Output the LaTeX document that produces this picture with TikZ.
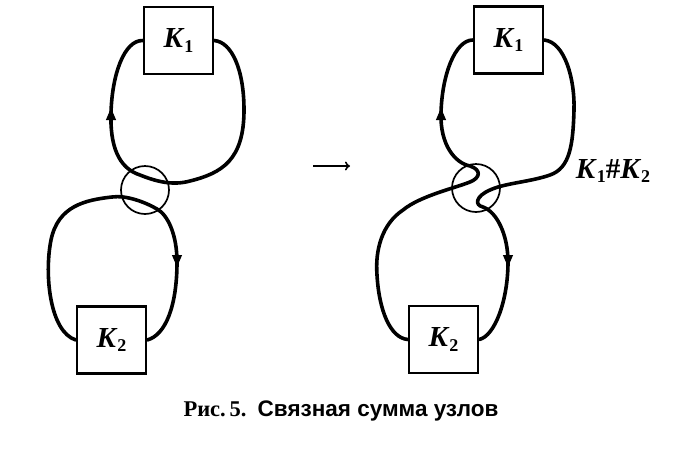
\documentclass[tikz,border=0pt]{standalone}
\usepackage{fontspec}
\setmainfont{Liberation Serif}
\setsansfont{Liberation Sans}
\usetikzlibrary{arrows.meta}
\newcommand\knotlbl[1]{\textbf{\textit{K}}\raisebox{-.35ex}{\fontsize{18}{18}\selectfont\textbf{#1}}}
\tikzset{
  strand/.style={line width=3.6pt,line join=round,line cap=round},
  ring/.style={circle,draw,line width=1.7pt,minimum size=48pt,inner sep=0pt},
  knotbox/.style={draw,line width=2.3pt,minimum width=69pt,minimum height=67pt,fill=white,
    font=\fontsize{29}{29}\selectfont},
  dirtip/.style={-{Triangle[length=12pt,width=10pt]},line width=1pt}
}

\begin{document}
\begin{tikzpicture}[x=1pt,y=-1pt]
    \useasboundingbox (0,0) rectangle (675,448);
    \node[knotbox] (K1a) at (178.5,40.5) {\knotlbl{1}};
    \node[knotbox] (K2a) at (111.5,340) {\knotlbl{2}};
    \node[knotbox] (K1b) at (508.5,40) {\knotlbl{1}};
    \node[knotbox] (K2b) at (443.5,339.5) {\knotlbl{2}};
    \node[ring] (Ra) at (145,190) {};
    \node[ring] (Rb) at (476,188) {};
    \coordinate (Ua) at (111,113);
    \coordinate (Da) at (177,262);
    \coordinate (Ub) at (441,113);
    \coordinate (Db) at (508,262);
    \draw[strand] (K1a.west) .. controls (124,40) and (112,75) .. (Ua)
      .. controls (110,145) and (118,168) .. (140,175)
      .. controls (155,181) and (172,186) .. (190,181)
      .. controls (222,173) and (244,160) .. (244,110)
      .. controls (244,70) and (232,42) .. (K1a.east);
    \draw[strand] (K2a.east) .. controls (166,335) and (177,305) .. (Da)
      .. controls (177,235) and (168,215) .. (157,209)
      .. controls (145,202) and (126,195) .. (112,197)
      .. controls (85,200) and (58,206) .. (51,240)
      .. controls (44,275) and (50,332) .. (K2a.west);
    \draw[strand] (K1b.west) .. controls (455,40) and (442,75) .. (Ub)
      .. controls (440,145) and (455,163) .. (470,166)
      .. controls (482,170) and (480,178) .. (470,182)
      .. controls (455,188) and (420,196) .. (403,210)
      .. controls (382,224) and (375,250) .. (377,275)
      .. controls (379,310) and (390,338) .. (K2b.west);
    \draw[strand] (K1b.east) .. controls (565,42) and (575,80) .. (574,110)
      .. controls (573,145) and (570,168) .. (550,175)
      .. controls (530,182) and (505,183) .. (490,190)
      .. controls (476,196) and (474,205) .. (483,207)
      .. controls (497,212) and (508,235) .. (Db)
      .. controls (508,300) and (495,336) .. (K2b.east);
    \draw[dirtip] ([yshift=-6pt]Ua) -- ([yshift=5pt]Ua);
    \draw[dirtip] ([yshift=6pt]Da) -- ([yshift=-5pt]Da);
    \draw[dirtip] ([yshift=-6pt]Ub) -- ([yshift=5pt]Ub);
    \draw[dirtip] ([yshift=6pt]Db) -- ([yshift=-5pt]Db);
    \node (sum) at (613,171) {\fontsize{29}{29}\selectfont\knotlbl{1}\textbf{\#}\knotlbl{2}};
    \draw[-{To[length=5pt,width=9pt]},line width=1.6pt] (313,166) -- (350,166);
    \node (cap) at (341,411) {\fontsize{22.5}{26}\selectfont\textbf{Рис.\,5.}\ \ \sffamily\bfseries Связная сумма узлов};
  \end{tikzpicture}
\end{document}
